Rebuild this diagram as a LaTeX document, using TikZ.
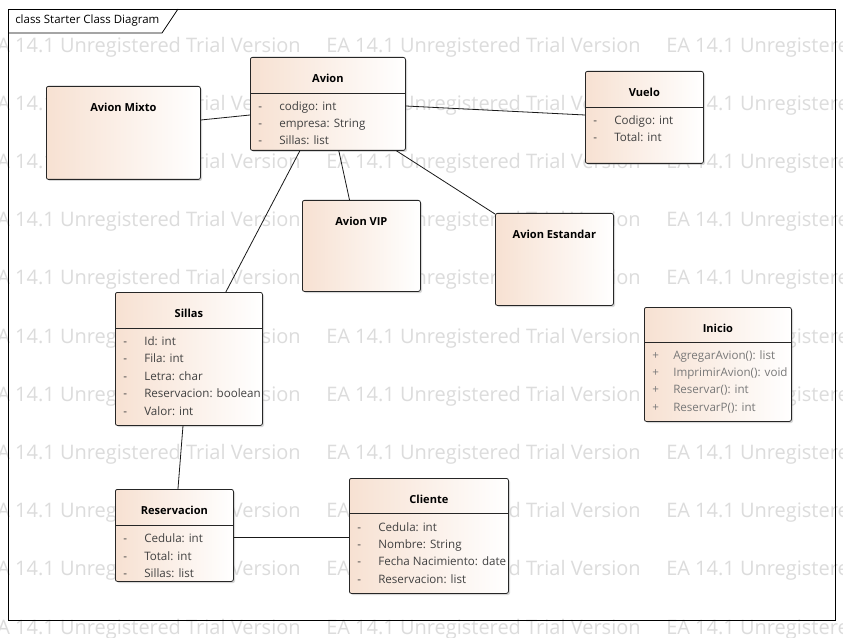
\documentclass[tikz,border=0pt]{standalone}
\usepackage{fontspec}
\setmainfont{Open Sans}
\usetikzlibrary{calc,positioning,shadows}

\definecolor{peach}{RGB}{247,225,210}
\definecolor{attrgray}{RGB}{65,65,65}
\definecolor{methgray}{RGB}{120,120,120}
\definecolor{wmgray}{RGB}{220,220,220}

\tikzset{
  classbox/.style={draw=black!85, line width=0.6pt, rounded corners=1.5pt,
    left color=peach, right color=white, anchor=north west,
    drop shadow={shadow xshift=1.2pt, shadow yshift=-1.2pt, opacity=0.3}},
  classtitle/.style={font=\fontsize{8.3}{10}\selectfont\bfseries, inner sep=0pt},
  attrtext/.style={font=\fontsize{8.7}{10}\selectfont, text=attrgray, anchor=base west, inner sep=0pt},
  methtext/.style={attrtext, text=methgray},
  sepline/.style={draw=black!85, line width=0.6pt},
  assoc/.style={draw=black!90, line width=0.6pt},
  watermark/.style={font=\fontsize{15}{18}\selectfont, text=wmgray, anchor=west, inner sep=0pt},
}

\begin{document}
\begin{tikzpicture}[x=0.75pt, y=-0.75pt]
  \useasboundingbox (0,0) rectangle (843,638);
  \fill[white] (0,0) rectangle (843,638);

  % watermark rows
  \foreach \row in {0,...,10} {
    \foreach \col in {0,1,2} {
      \node[watermark] (wm-\row-\col) at (-14+340*\col, 47+58.2*\row) {EA 14.1 Unregistered Trial Version};
    }
  }

  % diagram frame
  \draw[line width=0.6pt] (8,9) rectangle (835,620);
  \draw[line width=0.6pt] (8,33) -- (162,33) -- (178,9);
  \node[anchor=west, inner sep=0pt, font=\fontsize{8.6}{10}\selectfont] (frame) at (15,21) {class Starter Class Diagram};

  % class boxes
  \node[classbox, minimum width=155*0.75pt, minimum height=93*0.75pt] (avion) at (250,57) {};
  \node[classbox, minimum width=154*0.75pt, minimum height=93*0.75pt] (mixto) at (46,86) {};
  \node[classbox, minimum width=118*0.75pt, minimum height=92*0.75pt] (vuelo) at (585,71) {};
  \node[classbox, minimum width=118*0.75pt, minimum height=91*0.75pt] (vip) at (302,200) {};
  \node[classbox, minimum width=118*0.75pt, minimum height=92*0.75pt] (estandar) at (495,213) {};
  \node[classbox, minimum width=147*0.75pt, minimum height=133*0.75pt] (sillas) at (115,292) {};
  \node[classbox, minimum width=147*0.75pt, minimum height=114*0.75pt] (inicio) at (644,307) {};
  \node[classbox, minimum width=118*0.75pt, minimum height=92*0.75pt] (reserva) at (115,489) {};
  \node[classbox, minimum width=159*0.75pt, minimum height=115*0.75pt] (cliente) at (349,478) {};

  % titles
  \foreach \cls/\name in {avion/Avion, mixto/Avion Mixto, vuelo/Vuelo, vip/Avion VIP,
      estandar/Avion Estandar, sillas/Sillas, inicio/Inicio, reserva/Reservacion, cliente/Cliente} {
    \node[classtitle] (\cls-t) at ($(\cls.north)+(0,21)$) {\name};
  }

  % compartment lines
  \foreach \cls/\dy in {avion/36, vuelo/36, sillas/36, inicio/35, reserva/36, cliente/35} {
    \draw[sepline] ($(\cls.north west)+(0,\dy)$) -- ($(\cls.north east)+(0,\dy)$);
  }

  % attributes
  \foreach \txt [count=\k] in {codigo: int, empresa: String, Sillas: list} {
    \node[attrtext] (avion-d\k) at ($(avion.north west)+(8,36+17.2*\k)$) {-};
    \node[attrtext] (avion-a\k) at ($(avion.north west)+(29,36+17.2*\k)$) {\txt};
  }
  \foreach \txt [count=\k] in {Codigo: int, Total: int} {
    \node[attrtext] (vuelo-d\k) at ($(vuelo.north west)+(8,36+17.5*\k)$) {-};
    \node[attrtext] (vuelo-a\k) at ($(vuelo.north west)+(29,36+17.5*\k)$) {\txt};
  }
  \foreach \txt [count=\k] in {Id: int, Fila: int, Letra: char, Reservacion: boolean, Valor: int} {
    \node[attrtext] (sillas-d\k) at ($(sillas.north west)+(8,36+17.4*\k)$) {-};
    \node[attrtext] (sillas-a\k) at ($(sillas.north west)+(29,36+17.4*\k)$) {\txt};
  }
  \foreach \txt [count=\k] in {AgregarAvion(): list, ImprimirAvion(): void, Reservar(): int, ReservarP(): int} {
    \node[methtext] (inicio-d\k) at ($(inicio.north west)+(8,35+17.3*\k)$) {+};
    \node[methtext] (inicio-a\k) at ($(inicio.north west)+(29,35+17.3*\k)$) {\txt};
  }
  \foreach \txt [count=\k] in {Cedula: int, Total: int, Sillas: list} {
    \node[attrtext] (reserva-d\k) at ($(reserva.north west)+(8,36+17.5*\k)$) {-};
    \node[attrtext] (reserva-a\k) at ($(reserva.north west)+(29,36+17.5*\k)$) {\txt};
  }
  \foreach \txt [count=\k] in {Cedula: int, Nombre: String, Fecha Nacimiento: date, Reservacion: list} {
    \node[attrtext] (cliente-d\k) at ($(cliente.north west)+(8,36+17.3*\k)$) {-};
    \node[attrtext] (cliente-a\k) at ($(cliente.north west)+(29,36+17.3*\k)$) {\txt};
  }

  % associations
  \draw[assoc] ($(mixto.north east)+(0,34)$) -- ($(avion.north west)+(0,58)$);
  \draw[assoc] ($(avion.north east)+(0,49)$) -- ($(vuelo.north west)+(0,44)$);
  \draw[assoc] ($(avion.south west)!0.32!(avion.south east)$) -- ($(sillas.north west)!0.75!(sillas.north east)$);
  \draw[assoc] ($(avion.south west)!0.57!(avion.south east)$) -- ($(vip.north west)!0.40!(vip.north east)$);
  \draw[assoc] ($(avion.south west)!0.94!(avion.south east)$) -- ($(estandar.north west)+(0,1)$);
  \draw[assoc] ($(sillas.south west)!0.46!(sillas.south east)$) -- ($(reserva.north west)!0.53!(reserva.north east)$);
  \draw[assoc] ($(reserva.north east)+(0,48)$) -- ($(cliente.north west)+(0,59)$);
\end{tikzpicture}
\end{document}
